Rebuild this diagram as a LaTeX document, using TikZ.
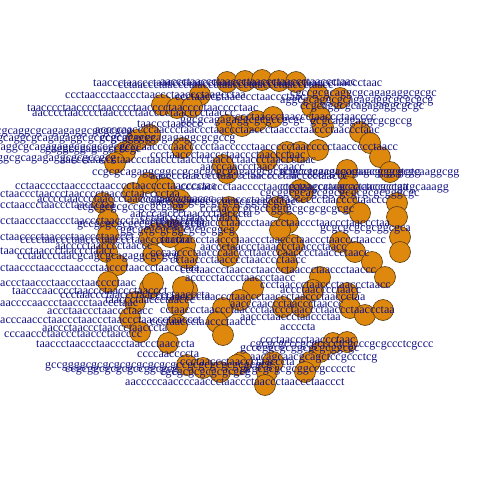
\documentclass[tikz,border=0pt]{standalone}
\usepackage{fontspec}
\setmainfont{Liberation Serif}
\definecolor{beadfill}{RGB}{222,136,14}
\definecolor{beadline}{RGB}{90,58,16}
\definecolor{seqcol}{RGB}{18,18,130}
\tikzset{
  bead/.style={circle,minimum size=21pt,inner sep=0pt,fill=beadfill,draw=beadline,line width=0.6pt},
  seq/.style={anchor=west,inner sep=0pt,text=seqcol,font=\fontsize{12}{12}\selectfont}
}
\begin{document}
\begin{tikzpicture}[x=1pt,y=-1pt]
\useasboundingbox (0,0) rectangle (480,480);
\clip (0,0) rectangle (480,480);
\foreach \x/\y [count=\i] in {
227/82,245/81,262/80,279/81,296/82,
200/95,162/105,177/108,192/107,
318/95,340/98,312/107,320/117,323/127,
227/125,242/126,257/121,273/117,
360/132,370/143,380/157,390/172,347/170,348/187,303/192,
150/135,137/140,125/152,115/163,182/148,
287/152,300/152,318/150,267/160,
227/173,223/165,
148/183,165/188,133/193,180/200,
103/203,108/220,108/235,107/252,117/265,108/282,
229/207,229/223,228/240,228/256,
173/230,150/237,153/255,185/245,170/237,
277/207,288/223,280/230,287/250,287/263,300/190,
347/203,360/213,397/203,397/217,
293/245,340/242,355/252,372/262,385/277,400/237,400/252,
320/277,313/290,253/288,347/293,
150/288,135/302,130/318,140/332,187/290,178/305,177/325,168/343,
223/308,217/322,223/335,240/300,
283/307,302/307,350/308,365/315,383/310,
333/343,347/342,320/352,310/362,305/372,
273/362,267/372,265/385,242/362,
187/365,203/368,220/372,237/365,
157/233,187/258,183/287,153/283}
  \node[bead] (b\i) at (\x,\y) {};
\foreach \x/\y/\s [count=\i] in {
93/83/taaccctaaccctaaccctaaccctaaccctaaccctaaccctaaccctaaccctaac,
118/85/cctaaccctaaccctaaccctaaccctaaccctaaccctaacc,
160/82/aaccctaaccctaaccctaaccctaaccctaaccctaac,
65/96/ccctaaccctaaccctaaccctaaccctaagcctaa,
175/97/ccctaaccctaacccctaaccctaac,
290/95/cgccgcgcaggcgcagagaggcgcgc,
280/102/aggcgcaggcgcagagaggcgcgcgcg,
300/108/ccgcaggcgcagagaggcgcgc,
27/108/taacccctaacccctaacccctaacccctaacccctaacccctaac,
32/113/aacccctaacccctaacccctaacccctaacccctaaccc,
235/117/ccctaaccctaaccctaaccctaacccc,
310/123/gcgcagagaggcgcgccg,
180/122/ggcgcagagaggcgcgccgcgc,
137/124/taaccctaacccc,
95/130/accccaaccccaaccctaaccctaaccctaaccctaaccctaaccctaaccctaac,
-4/133/cgcaggcgcagagaggcgcgcgcg,
-3/140/gcaggcgcagagaggcgcgcgcgcagcg,
100/140/ccgcaggcgcagagaggcgcgccg,
-5/149/caggcgcagagaggcgcgccgcgc,
45/151/gaggcggagagccccgc,
120/147/ccccaaccccaaccccctaaccccctaaccccctaaccccctaaccccctaacc,
-3/160/ggcgcagagaggcgcgccgcg,
60/160/aaccctaaccctaaccctaaccctaaccctaaccctaaccctaaccctaac,
150/155/ccctaaccctaaccctaaccctaaccctaac,
200/167/aacccaaccctaacccaacc,
92/174/ccgcgcagaggcggccgcgcgcgcgagaggcgcgcgccgcgcgcgagagcgcgcgcgg,
15/186/cctaacccctaacccctaacccctaacccctaacccctaa,
0/194/ctaaccctaaccctaacccctaaccctaacccctaa,
37/199/acccctaaccctaaccctaaccctaaccctaaccc,
0/205/cctaaccctaaccctaaccctaa,
77/209/ccgcgcgcgccgcgcgagg,
130/214/aacccaaccctaaccctaacccta,
0/221/cctaaccctaaccctaaccctaaccctaaccctaaccctaa,
77/226/gccgcgcgcgccgcgcggcgcgc,
0/237/ctaacccctaaccctaaccctaaccct,
20/240/cccctaaccctaaccctaaccctaaccctaaccc,
55/246/aacccctaacccctaaccc,
0/251/taaccctaaccctaaccctaacc,
17/257/cctaaccctaacgcagcgcagaggcgcgcg,
0/268/ctaaccctaaccctaaccctaaccctaaccctaaccctaa,
185/279/acc,
0/283/accctaaccctaaccctaacccctaac,
12/291/taacccaacccctaaccctaaccctaaccct,
60/295/ccctaaccctaaccctaacccctaacccta,
105/300/taaccctaaccctaaccc,
0/303/aaccccaaccctaaccctaaccctaac,
47/311/accctaaccctaaccctaacc,
0/320/acccaaccctaaccctaaccctaaccctaaccctaaccct,
42/328/aaccctaaccctaaccctaacccta,
4/334/cccaaccctaaccctaaccctaacccc,
36/344/taaccctaaccctaaccctaaccctaacccta,
137/354/ccccaaccccta,
45/367/gccggggcgcgcgcgcgcgcgcgccgcgcgcgcgcgcgcg,
65/371/ccgcggcgcgcgccggcgcg,
125/382/aacccccaaccccaaccctaaccctaaccctaaccctaaccct,
150/176/aacccctaacccctaaccctaacccctaacccctaaccc,
280/173/tctgcctgaagacccaaacggggtgtcaaggcgg,
180/187/cccaacccctaacccctaacccctaaccctaaccctaacccctaa,
280/188/ctgagagcaacgcaactccgccgttgcaaagg,
260/195/cgcggcgcagcggcgcgcgcgcgggcgc,
140/200/ccctaaccctaacccctaaccctaaccctaaccccctaacccctaaccc,
150/204/aacccgcgcgcgcgcgcggcgcgcgc,
200/210/cccaacccgcgccggtgcgcgcgcgcgc,
140/218/cctaacccctaaccctaacc,
150/223/ccctaaccctaaccctaaccctaaccctaaccctaaccctaaccctaa,
320/230/gcgcgcgcgcggcgca,
120/232/ggcgcgcgcggcgcgcggcg,
160/240/ccctaaccctaaccctaaccctaaccctaaccctaaccctaaccc,
200/247/aaccctaaccctaaaccctaaccctaacc,
150/253/cccaaccctaacccaacccttaacccaacccctaaccctaacc,
170/260/cctaaccctaacccctaacccctaacc,
180/270/ccctaaccctaaccctaaccctaaccctaaccctaaccc,
200/278/ccctaccctaaccctaacc,
260/285/ccctaaccctaaccctaaccctaacc,
280/290/accctaacccctaacc,
150/297/ccctaacccctaaccctaaccctaaccctaaccctaaccctaa,
230/304/aacccaaccctaaccctaaccc,
160/310/cctaaccctaaccctaaccctaaccctaaccctaaccctaaccctaa,
240/317/aaccctaaccctaaccctaa,
280/327/accccta,
150/322/ccctaaccctaaccctaaccc,
260/340/ccctaaccctaaccctaac,
250/345/cgcgcgcccgcgcccctcgcccgcgccctcgccc,
240/350/gcccggcgcggcgcgcggcgc,
250/358/aacagcaacgcagctccgccctcg,
180/362/ccctaaccctaaccctaacccta,
240/370/gcgcgcgcgcggccgcccctc,
160/374/cgcgcgcgcgcgcgcg}
  \node[seq] (t\i) at (\x,\y) {\s};
\end{tikzpicture}
\end{document}
